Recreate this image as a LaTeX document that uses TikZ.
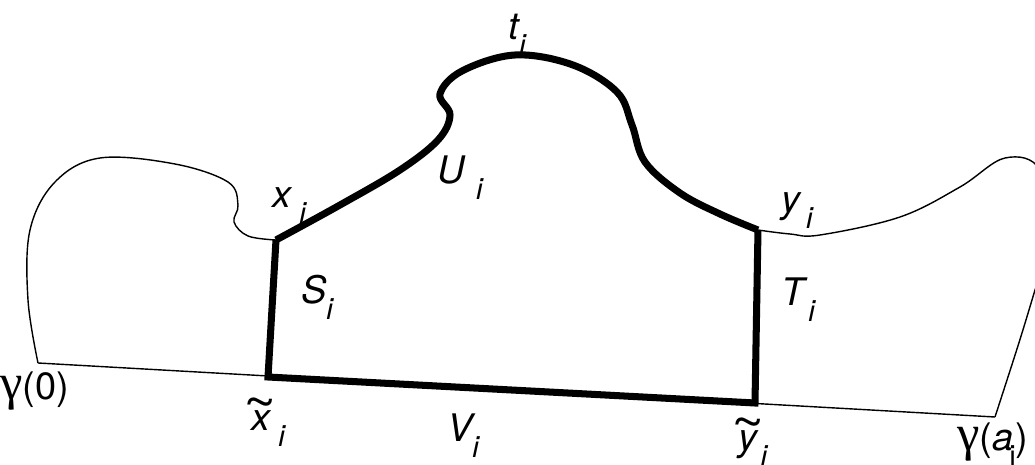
\documentclass[tikz,border=0pt]{standalone}
\usepackage{graphicx}
\usepackage{fontspec}
\setmainfont{TeX Gyre Heros}
\newfontfamily\grkfont{Liberation Serif}
\newcommand{\withi}[2][0pt]{#2\hspace{#1}\raisebox{-0.42em}{\fontsize{21}{24}\selectfont i}}
\newcommand{\tildeof}[1]{\ooalign{#1\cr\hidewidth\raisebox{0.3em}{\upshape\scalebox{1.5}[1.3]{\char"7E}}\hidewidth\cr}}
\tikzset{
  thin curve/.style={line width=1pt},
  thick curve/.style={line width=5pt, line join=miter},
  lab/.style={font=\fontsize{27}{30}\selectfont\itshape, inner sep=0pt},
}
\begin{document}
\begin{tikzpicture}[x=0.025cm, y=-0.025cm]
  \useasboundingbox (0,0) rectangle (1035,465);
  \clip (0,0) rectangle (1035,465);
  % corners of the region
  \coordinate (g0) at (38,363);
  \coordinate (ga) at (995,417);
  \coordinate (xi) at (276,240);
  \coordinate (xt) at (268,377);
  \coordinate (yi) at (758,230);
  \coordinate (yt) at (755,403);
  % thin outer curve
  \draw[thin curve] (g0) -- (ga);
  \draw[thin curve] plot[smooth, tension=0.6] coordinates {(g0) (28,300) (30,230) (55,182) (100,158) (175,164) (228,182) (238,205) (234,222) (248,236) (xi)};
  \draw[thin curve] plot[smooth, tension=0.6] coordinates {(yi) (790,234) (820,235) (900,217) (960,187) (1005,158) (1040,170) (1048,235) (1035,290)};
  \draw[thin curve] (1035,290) .. controls (1020,340) .. (ga);
  % thick boundary
  \draw[thick curve] (yi) -- (yt) -- (xt) -- (xi);
  \draw[thick curve] plot[smooth, tension=0.6] coordinates {(xi) (340,205) (400,170) (438,140) (450,115) (440,94) (462,71) (515,55) (573,65) (617,92) (632,125) (645,162) (680,193) (720,214) (yi)};
  % labels
  \node[lab] (ti) at (517,35) {\withi{t}};
  \node[lab] (lxi) at (289,206) {\withi[6pt]{x}};
  \node[lab] (lUi) at (460,178) {\withi[8pt]{U}};
  \node[lab] (lyi) at (797,211) {\withi[4pt]{y}};
  \node[lab] (lSi) at (317,297) {\withi{S}};
  \node[lab] (lTi) at (798,300) {\withi[3pt]{T}};
  \node[lab, anchor=base] (lxt) at (268,431) {\withi[6pt]{\tildeof{x}}};
  \node[lab] (lVi) at (463,436) {\withi{V}};
  \node[lab, anchor=base] (lyt) at (753,451) {\withi[2pt]{\tildeof{y}}};
  \node[lab, anchor=base, font=\fontsize{27}{30}\selectfont] (lg0) at (35,400) {{\grkfont\fontsize{36}{36}\selectfont γ}(0)};
  \node[lab, anchor=base, font=\fontsize{27}{30}\selectfont] (lga) at (993,451) {{\grkfont\fontsize{36}{36}\selectfont γ}(\withi[-3pt]{\textit{a}})};
\end{tikzpicture}
\end{document}
